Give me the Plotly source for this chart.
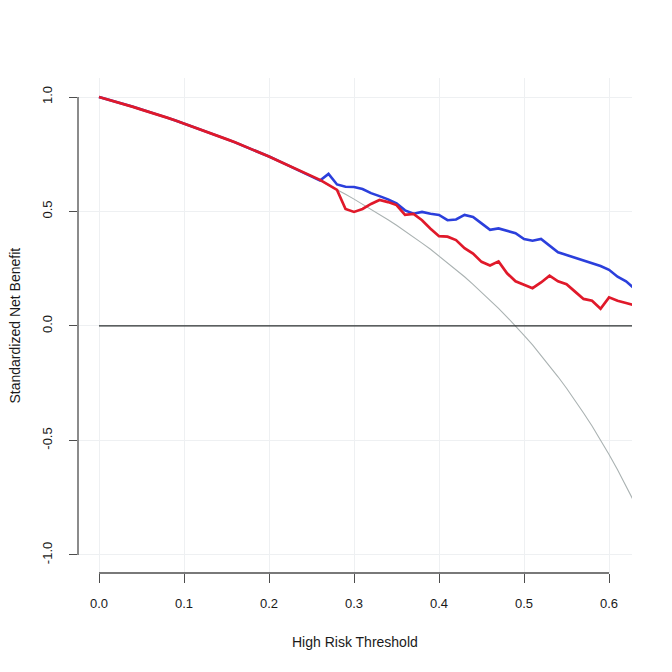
import plotly.graph_objects as go

thresholds = [round(i * 0.01, 2) for i in range(64)]

treat_all = [1.000, 0.990, 0.979, 0.968, 0.957, 0.945, 0.934, 0.922, 0.910, 0.897,
             0.884, 0.871, 0.858, 0.845, 0.831, 0.816, 0.802, 0.787, 0.772, 0.756,
             0.740, 0.723, 0.706, 0.689, 0.671, 0.653, 0.634, 0.615, 0.595, 0.575,
             0.554, 0.532, 0.510, 0.487, 0.464, 0.440, 0.415, 0.389, 0.362, 0.335,
             0.306, 0.277, 0.246, 0.215, 0.182, 0.148, 0.113, 0.077, 0.039, 0.000,
             -0.041, -0.083, -0.128, -0.174, -0.222, -0.272, -0.325, -0.380, -0.437, -0.498,
             -0.561, -0.628, -0.698, -0.772]

blue_tail = [0.635, 0.664, 0.618, 0.608, 0.607, 0.598, 0.580, 0.567, 0.553, 0.535,
             0.505, 0.490, 0.498, 0.490, 0.485, 0.462, 0.465, 0.485, 0.476, 0.448,
             0.420, 0.426, 0.415, 0.405, 0.380, 0.372, 0.380, 0.352, 0.322, 0.310,
             0.298, 0.287, 0.275, 0.262, 0.245, 0.215, 0.195, 0.163]

red_tail = [0.638, 0.616, 0.594, 0.511, 0.498, 0.511, 0.533, 0.550, 0.541, 0.528,
            0.485, 0.489, 0.462, 0.425, 0.392, 0.390, 0.375, 0.340, 0.316, 0.280,
            0.264, 0.282, 0.230, 0.195, 0.180, 0.165, 0.190, 0.220, 0.195, 0.182,
            0.150, 0.118, 0.110, 0.075, 0.125, 0.110, 0.100, 0.090]

blue_model = treat_all[:26] + blue_tail
red_model = treat_all[:26] + red_tail
treat_none = [0.0 for _ in thresholds]

x_ticks = [0.0, 0.1, 0.2, 0.3, 0.4, 0.5, 0.6]
x_tick_text = ["0.0", "0.1", "0.2", "0.3", "0.4", "0.5", "0.6"]
y_ticks = [-1.0, -0.5, 0.0, 0.5, 1.0]
y_tick_text = ["-1.0", "-0.5", "0.0", "0.5", "1.0"]

FONT = "Liberation Sans, Arial, Helvetica, sans-serif"
AXIS_COL = "#4d4d4d"

fig = go.Figure()
fig.add_trace(go.Scatter(x=thresholds, y=treat_all, mode="lines",
                         line=dict(color="#aab2b2", width=1.1), showlegend=False))
fig.add_trace(go.Scatter(x=thresholds, y=treat_none, mode="lines",
                         line=dict(color="#2a2f2f", width=1.3), showlegend=False))
fig.add_trace(go.Scatter(x=thresholds, y=blue_model, mode="lines",
                         line=dict(color="#2b3fdc", width=2.6), showlegend=False))
fig.add_trace(go.Scatter(x=thresholds, y=red_model, mode="lines",
                         line=dict(color="#e0192a", width=2.7), showlegend=False))

fig.update_layout(
    width=672, height=672,
    margin=dict(l=70, r=48, t=70, b=107),
    paper_bgcolor="white", plot_bgcolor="white",
    font=dict(family=FONT, size=13, color="#1a1a1a"),
    xaxis=dict(range=[-0.0247, 0.627], tickvals=x_ticks, ticktext=x_tick_text,
               showgrid=True, gridcolor="#eef0f2", gridwidth=1, zeroline=False,
               showline=False, ticks="outside", ticklen=9, tickwidth=1.2,
               tickcolor=AXIS_COL, ticklabelstandoff=9),
    yaxis=dict(range=[-1.079, 1.083], tickvals=y_ticks, ticktext=y_tick_text,
               showgrid=True, gridcolor="#eef0f2", gridwidth=1, zeroline=False,
               showline=False, ticks="outside", ticklen=8, tickwidth=1.2,
               tickcolor=AXIS_COL, tickangle=-90, ticklabelstandoff=12),
    shapes=[
        dict(type="line", xref="paper", yref="y", x0=0, x1=0, y0=-1.0, y1=1.0,
             line=dict(color=AXIS_COL, width=1.3)),
        dict(type="line", xref="x", yref="paper", x0=0.0, x1=0.6, y0=0, y1=0,
             line=dict(color=AXIS_COL, width=1.3)),
    ],
    annotations=[
        dict(text="High Risk Threshold", xref="paper", yref="paper", x=0.5, y=-0.139,
             xanchor="center", yanchor="middle", showarrow=False,
             font=dict(family=FONT, size=14, color="#1a1a1a")),
        dict(text="Standardized Net Benefit", xref="paper", yref="paper", x=-0.1155, y=0.5,
             xanchor="center", yanchor="middle", showarrow=False, textangle=-90,
             font=dict(family=FONT, size=14, color="#1a1a1a")),
    ],
)

fig.write_html("out.html")
